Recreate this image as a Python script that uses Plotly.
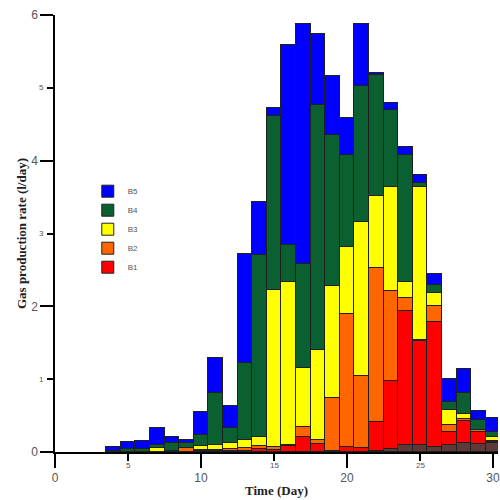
import plotly.graph_objects as go

days = list(range(4, 31))
b0 = [0, 0, 0, 0, 0, 0, 0, 0, 0, 0, 0, 0, 0, 0, 0, 0, 0, 0, 0.02, 0.04, 0.10, 0.10, 0.07, 0.10, 0.12, 0.11, 0.12]
b1 = [0, 0, 0, 0, 0, 0, 0.01, 0.01, 0.01, 0.02, 0.04, 0.03, 0.08, 0.20, 0.11, 0.02, 0.07, 0.06, 0.39, 0.93, 1.84, 1.42, 1.71, 0.18, 0.30, 0.17, 0.02]
b2 = [0, 0, 0, 0, 0.01, 0.05, 0.02, 0.02, 0.03, 0.03, 0.04, 0.04, 0.02, 0.15, 0.06, 0.72, 1.83, 0.98, 2.11, 1.24, 0.17, 0.02, 0.22, 0.09, 0.03, 0.02, 0.01]
b3 = [0, 0, 0, 0.05, 0, 0, 0.05, 0.07, 0.08, 0.12, 0.13, 2.15, 2.23, 0.81, 1.23, 1.54, 0.91, 2.12, 0.99, 1.43, 0.23, 2.10, 0.19, 0.21, 0.07, 0, 0.05]
b4 = [0.02, 0.04, 0.04, 0.04, 0.12, 0.08, 0.16, 0.71, 0.21, 1.05, 2.50, 2.40, 0.51, 1.42, 3.36, 2.07, 1.27, 1.87, 1.66, 1.06, 1.74, 0.05, 0.10, 0.11, 0.29, 0.14, 0.07]
b5 = [0.05, 0.10, 0.11, 0.24, 0.08, 0.04, 0.31, 0.48, 0.30, 1.50, 0.72, 0.11, 2.75, 3.30, 0.98, 0.81, 0.50, 0.84, 0.03, 0.09, 0.11, 0.11, 0.15, 0.31, 0.33, 0.12, 0.20]

series = [
    ("B0", b0, "#603838", False),
    ("B1", b1, "#FF0000", True),
    ("B2", b2, "#FF6600", True),
    ("B3", b3, "#FFFF00", True),
    ("B4", b4, "#0A6030", True),
    ("B5", b5, "#0000FF", True),
]

x_major = [0, 10, 20, 30]
x_minor_labels = [5, 15, 25]
y_major = [0, 2, 4, 6]
y_minor_labels = [1, 3, 5]

fig = go.Figure()
for name, vals, col, show in series:
    fig.add_trace(go.Bar(x=days, y=vals, name=name, width=1,
                         marker=dict(color=col, line=dict(color="#202020", width=1)),
                         showlegend=show))

ann = []
for v in x_minor_labels:
    ann.append(dict(x=v, xref="x", y=0, yref="paper", yshift=-20, text=str(v),
                    showarrow=False, font=dict(size=8, color="#555", family="Liberation Sans")))
for v in y_minor_labels:
    ann.append(dict(x=0, xref="paper", y=v, yref="y", xshift=-18, text=str(v),
                    showarrow=False, font=dict(size=8, color="#555", family="Liberation Sans")))

fig.update_layout(
    width=500, height=500,
    margin=dict(l=55, r=0, t=15, b=48),
    barmode="stack", bargap=0,
    plot_bgcolor="white", paper_bgcolor="white",
    showlegend=True,
    legend=dict(x=0.074, y=0.63, xanchor="left", yanchor="top", traceorder="reversed",
                font=dict(size=8, color="#555", family="Liberation Sans"),
                bgcolor="rgba(0,0,0,0)", tracegroupgap=0),
    xaxis=dict(range=[0, 30.34], tickmode="array", tickvals=x_major, ticktext=[str(v) for v in x_major],
               ticks="outside", ticklen=14, tickwidth=1.5, tickcolor="black", ticklabeloverflow="allow",
               minor=dict(dtick=5, ticklen=7, tickwidth=1.5, tickcolor="black", ticks="outside"),
               showline=True, linecolor="black", linewidth=1.5, showgrid=False, zeroline=False,
               tickfont=dict(size=12, color="#555", family="Liberation Sans"),
               title=dict(text="<b>Time (Day)</b>", font=dict(size=13, color="#222", family="Liberation Serif"), standoff=2)),
    yaxis=dict(range=[0, 6], tickmode="array", tickvals=y_major, ticktext=[str(v) for v in y_major],
               ticks="outside", ticklen=13, tickwidth=1.5, tickcolor="black",
               minor=dict(dtick=1, ticklen=6, tickwidth=1.5, tickcolor="black", ticks="outside"),
               showline=True, linecolor="black", linewidth=1.5, showgrid=False, zeroline=False,
               tickfont=dict(size=12, color="#555", family="Liberation Sans"),
               title=dict(text="<b>Gas production rate (l/day)</b>", font=dict(size=13, color="#222", family="Liberation Serif"), standoff=2)),
    annotations=ann,
)

fig.write_html("out.html")
